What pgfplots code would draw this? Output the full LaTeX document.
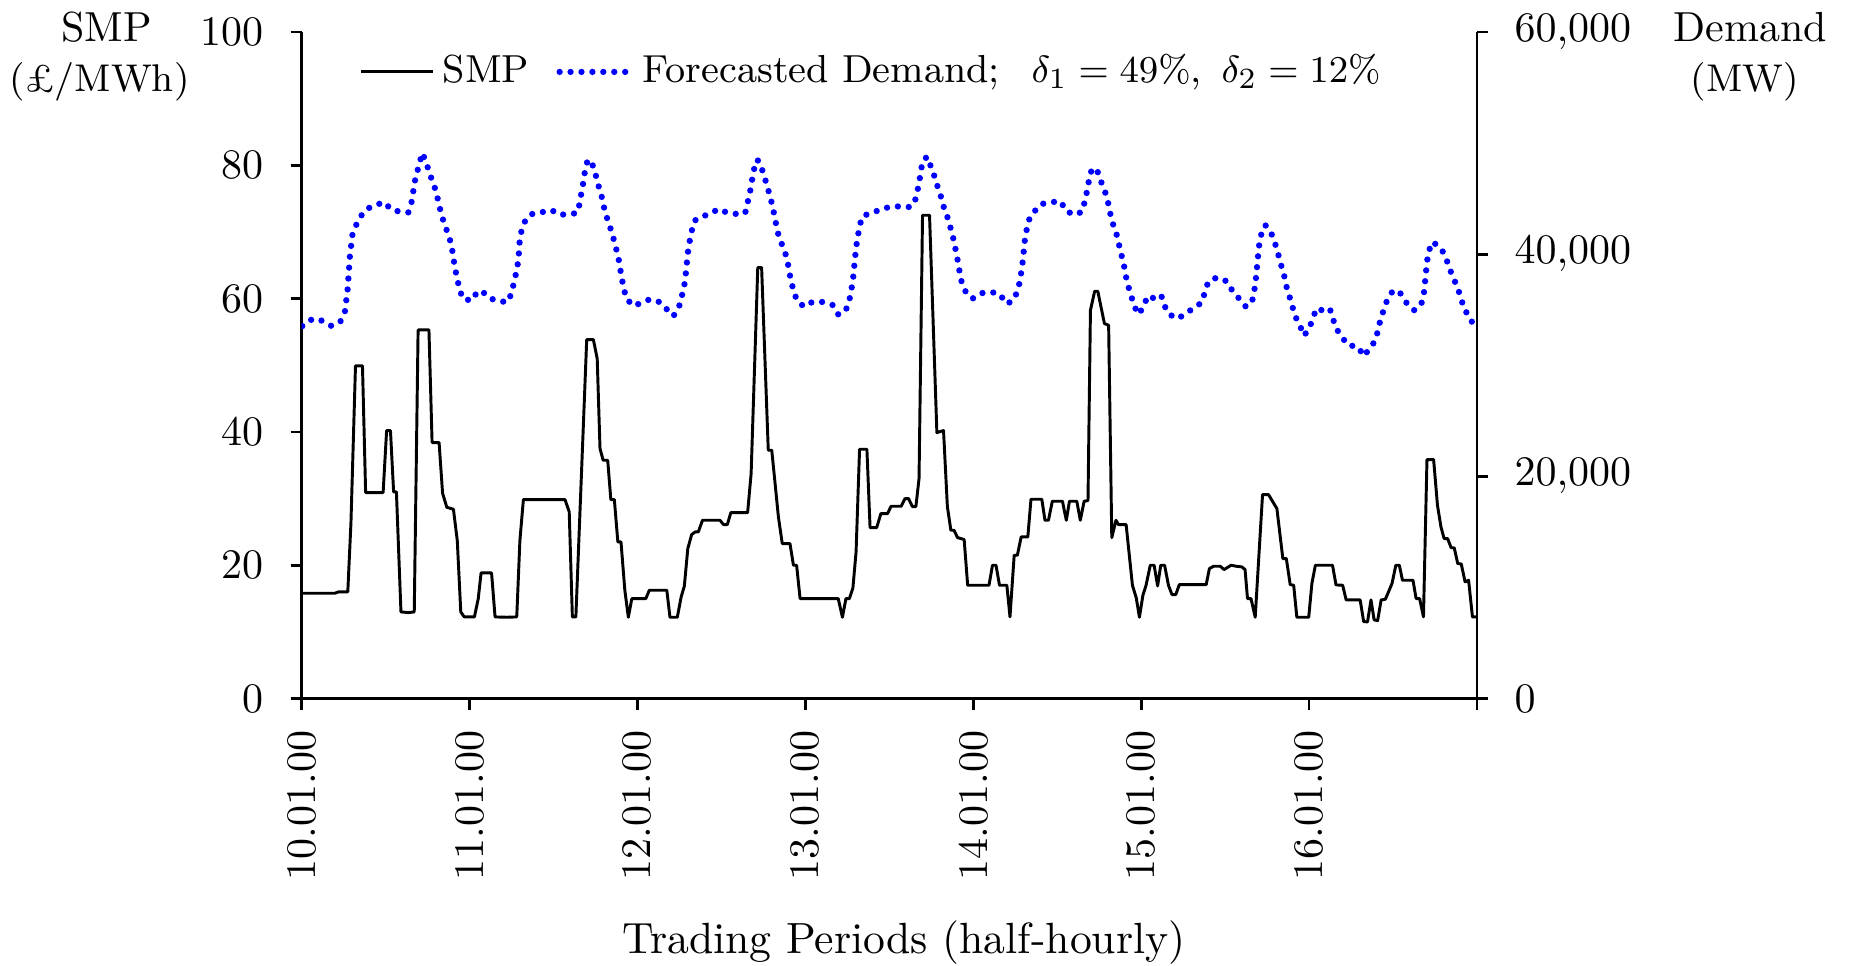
\documentclass[border=0pt]{standalone}
\usepackage{pgfplots}
\pgfplotsset{compat=1.18}
\begin{document}
\begin{tikzpicture}
\pgfplotsset{
  common/.style={
    scale only axis, width=279.8pt, height=158.7pt,
    xmin=0, xmax=336,
    tick align=outside, major tick length=2.6pt,
    axis line style={line width=0.65pt},
    every tick/.style={line width=0.65pt, black},
  }
}
\begin{axis}[common,
  at={(0,0)}, anchor=south west,
  ymin=0, ymax=100,
  axis x line*=bottom, axis y line*=left,
  xtick={0,48,96,144,192,240,288,336},
  xticklabels={10.01.00,11.01.00,12.01.00,13.01.00,14.01.00,15.01.00,16.01.00,{}},
  x tick label style={rotate=90, anchor=east},
  xticklabel shift=1.5pt,
  yticklabel shift=3.0pt,
  ytick={0,20,40,60,80,100},
  legend style={draw=none, fill=none, legend columns=-1,
    /tikz/every even column/.append style={column sep=4.5pt},
    at={(0.038,0.94)}, anchor=west, font=\fontsize{9.3}{11}\selectfont},
]
\addplot[black, line width=0.7pt, line join=round] coordinates {
(0,15.8) (9.5,15.8) (10.5,16.0) (13.2,16.0) (14.1,26.3) (15.4,49.9) (17.4,49.9) (18.3,30.9) (23.3,30.9) (24.3,40.2) (25.4,40.2) (26.3,31.0) (27.1,31.0) (28.4,13.0) (30.5,12.9) (32.2,13.0) (33.3,55.3) (36.4,55.3) (37.3,38.4) (39.3,38.4) (40.3,30.8) (41.5,28.7) (43.4,28.4) (44.5,23.7) (45.5,13.0) (46.5,12.25) (49.4,12.25) (50.5,15.0) (51.3,18.85) (54.3,18.85) (55.3,12.25) (58.6,12.2) (61.5,12.25) (62.4,23.7) (63.4,29.85) (75.3,29.85) (76.5,28.0) (77.4,12.25) (78.4,12.25) (81.5,53.85) (83.4,53.85) (84.5,51.0) (85.3,37.5) (86.2,35.75) (87.5,35.75) (88.4,29.85) (89.4,29.85) (90.4,23.5) (91.3,23.5) (92.4,16.25) (93.4,12.2) (94.4,15.0) (98.4,15.0) (99.4,16.25) (104.4,16.25) (105.3,12.2) (107.4,12.2) (108.5,15.25) (109.4,16.85) (110.4,22.5) (111.5,24.6) (112.5,25.0) (113.4,25.0) (114.6,26.75) (119.6,26.75) (120.6,26.1) (121.7,26.1) (122.7,27.9) (127.5,27.9) (128.5,33.75) (130.4,64.65) (131.5,64.65) (133.4,37.25) (134.4,37.25) (136.3,27.25) (137.4,23.25) (139.6,23.25) (140.6,20.0) (141.5,20.0) (142.5,15.0) (153.4,15.0) (154.6,12.2) (155.6,15.0) (156.6,15.0) (157.6,16.6) (158.5,22.0) (159.5,37.4) (161.6,37.4) (162.5,25.65) (164.4,25.65) (165.6,27.75) (167.5,27.75) (168.5,28.85) (171.4,28.85) (172.5,30.0) (173.5,30.0) (174.6,28.8) (175.6,28.8) (176.5,33.0) (177.5,72.5) (179.5,72.5) (181.6,39.9) (183.5,40.2) (184.6,28.8) (185.6,25.25) (186.5,25.25) (187.5,24.15) (189.4,23.85) (190.4,17.0) (196.5,17.0) (197.5,20.0) (198.5,20.0) (199.5,17.0) (201.6,17.0) (202.5,12.25) (203.7,21.5) (204.6,21.5) (205.7,24.25) (207.6,24.25) (208.5,29.9) (211.6,29.9) (212.5,26.75) (213.5,26.75) (214.6,29.6) (217.5,29.6) (218.6,26.75) (219.5,29.6) (221.6,29.6) (222.6,26.75) (223.7,29.6) (224.8,29.7) (225.5,58.25) (226.7,61.1) (227.6,61.1) (229.5,56.25) (230.7,56.0) (231.6,24.15) (232.8,26.75) (233.5,26.1) (235.7,26.1) (237.5,17.0) (238.6,15.1) (239.5,12.2) (240.5,15.5) (241.4,17.0) (242.6,20.0) (243.7,20.0) (244.7,16.9) (245.6,20.0) (246.7,20.0) (247.8,17.0) (248.8,15.6) (249.9,15.6) (250.9,17.1) (258.6,17.1) (259.5,19.5) (260.7,19.85) (262.6,19.85) (263.7,19.35) (265.7,20.0) (267.2,19.85) (268.8,19.75) (269.7,19.35) (270.4,15.0) (271.4,15.0) (272.6,12.2) (274.7,30.6) (276.4,30.6) (278.8,28.5) (280.5,21.0) (281.5,21.0) (282.6,17.1) (283.6,17.0) (284.5,12.2) (287.9,12.2) (288.8,17.25) (289.8,20.0) (294.7,20.0) (295.7,17.05) (297.6,17.0) (298.6,14.8) (302.6,14.8) (303.6,11.55) (304.7,11.5) (305.7,14.8) (306.6,11.8) (307.6,11.7) (308.6,14.8) (309.8,14.9) (310.7,16.0) (311.7,17.25) (312.8,20.0) (313.8,20.0) (314.7,17.75) (317.7,17.75) (318.6,15.0) (319.6,15.0) (320.7,12.25) (321.7,35.85) (323.6,35.85) (324.7,29.0) (325.7,25.75) (326.6,24.0) (327.6,24.0) (328.6,22.65) (329.5,22.6) (330.5,20.25) (331.5,20.2) (332.6,17.5) (333.6,17.75) (334.7,12.25) (336,12.25)
};
\addlegendentry{SMP}
\addlegendimage{blue, line width=1.5pt, line cap=round, dash pattern=on 0pt off 2.6pt}
\addlegendentry{Forecasted Demand;\hspace{7.5pt}$\delta_1 = 49\%$,\enspace$\delta_2 = 12\%$}
\end{axis}
\begin{axis}[common,
  at={(0,0)}, anchor=south west,
  ymin=0, ymax=60000,
  axis x line=none, axis y line*=right,
  ytick={0,20000,40000,60000},
  scaled y ticks=false,
  yticklabel shift=2.8pt,
  yticklabel style={/pgf/number format/1000 sep={\mathord{,}}},
]
\addplot[blue, line width=1.5pt, line cap=round, dash pattern=on 0pt off 2.6pt] coordinates {
(0.2,33526) (2.4,34068) (4.75,34194) (6.2,33923) (8.6,33526) (11.15,33977) (12.4,34879) (13.15,36837) (13.8,39787) (14.5,41708) (15.7,42700) (16.9,43396) (18.3,43992) (20.8,44416) (23.8,44659) (25.4,44055) (28.1,43811) (30.5,43757) (31.45,44714) (32.4,46608) (33.2,47600) (34.5,49107) (35.7,48205) (36.5,47275) (37.7,46373) (38.6,45408) (39.3,44443) (40.0,43514) (41.0,42549) (42.1,41647) (42.9,40690) (43.35,39752) (43.8,38795) (44.5,37803) (45.1,36837) (46.2,35935) (48.8,35845) (50.3,36688) (52.7,36449) (54.1,35999) (56.7,35728) (59.1,35728) (60.1,36630) (60.8,37586) (61.5,38551) (62.0,39544) (62.4,41466) (63.1,42403) (64.3,43269) (66.2,43666) (68.4,43757) (71.5,43964) (73.6,43540) (76.2,43600) (78.7,43694) (79.6,44659) (80.0,45616) (80.6,46553) (81.0,47510) (81.8,48502) (82.9,48268) (83.9,47366) (84.6,46401) (85.6,45471) (86.2,44506) (87.0,43540) (88.0,42611) (88.9,41708) (89.7,40746) (90.5,39787) (91.0,38850) (91.5,37857) (92.1,36901) (92.9,35935) (95.1,35330) (97.4,35692) (99.6,35935) (102.3,35692) (104.2,35096) (106.3,34428) (107.9,35276) (108.7,36233) (109.4,37198) (109.8,38163) (110.1,39120) (110.4,40112) (110.9,41105) (111.5,42070) (112.3,43000) (114.1,43360) (116.6,43600) (119.1,44055) (121.5,43757) (124.6,43600) (126.8,43694) (127.5,44659) (128.2,45616) (128.7,46553) (129.2,47510) (130.2,48502) (131.1,48205) (132.0,47213) (133.0,46247) (133.8,45317) (134.6,44353) (135.2,43396) (135.8,42431) (136.5,41466) (137.7,40599) (138.7,39661) (139.3,38669) (139.8,37712) (140.6,36747) (141.6,35818) (143.6,35276) (146.1,35710) (149.2,35692) (151.8,35420) (153.4,34581) (155.4,34825) (156.5,35728) (157.1,36688) (157.6,37649) (157.9,38641) (158.2,39607) (158.5,40599) (159.0,41556) (159.5,42549) (160.4,43450) (162.3,43630) (165.1,43964) (167.9,44235) (170.5,44295) (173.5,44235) (175.1,44506) (175.9,45471) (176.5,46401) (177.0,47366) (177.5,48358) (178.8,48773) (179.9,47871) (181.0,46914) (181.9,45977) (182.9,45047) (183.7,44082) (184.8,43180) (185.6,42250) (186.4,41285) (187.0,40328) (187.6,39363) (188.1,38398) (188.7,37441) (189.9,36566) (191.8,35999) (194.1,36476) (197.1,36594) (199.7,36386) (201.3,35547) (203.1,35728) (204.6,36594) (205.3,37532) (205.8,38524) (206.2,39480) (206.5,40473) (206.8,41438) (207.4,42403) (208.2,43360) (209.5,43847) (211.4,44506) (214.4,44686) (217.0,44747) (218.6,43847) (221.3,43540) (223.2,43847) (223.9,44804) (224.6,45769) (225.1,46698) (225.9,47663) (227.3,47663) (228.3,46698) (229.5,45796) (230.4,44867) (231.0,43901) (231.7,42909) (232.8,42007) (233.5,41078) (234.2,40112) (235.0,39156) (235.5,38190) (236.2,37225) (237.1,36296) (238.0,35330) (239.25,34581) (240.8,35330) (241.8,36233) (243.7,36025) (245.7,36323) (246.6,35394) (248.0,34581) (250.5,34194) (252.8,34672) (255.2,35186) (257.4,35665) (258.2,36594) (259.2,37532) (261.6,37893) (264.5,37559) (266.1,36688) (268.1,35963) (270.0,35240) (271.8,35875) (272.4,36837) (272.8,37803) (273.1,38795) (273.4,39787) (273.7,40746) (274.3,41738) (275.5,42611) (277.1,41952) (278.2,41050) (279.1,40085) (279.9,39120) (280.8,38190) (281.4,37225) (282.3,36296) (283.2,35330) (284.0,34428) (285.4,33562) (286.55,32660) (288.0,33291) (289.1,34221) (290.1,35123) (291.7,34950) (293.9,35123) (294.8,34194) (295.8,33291) (297.4,32534) (299.1,31812) (302.0,31668) (303.6,30820) (305.3,31487) (306.9,32209) (307.7,33138) (308.4,34104) (309.4,35033) (310.4,35935) (312.1,36774) (314.1,36476) (315.8,35638) (318.0,34950) (320.0,35420) (320.8,36386) (321.1,37351) (321.4,38308) (321.7,39300) (322.2,40265) (323.3,41105) (325.7,40536) (327.1,39697) (328.1,38731) (329.3,37829) (330.5,36927) (331.5,35999) (332.3,35033) (333.8,34428) (335.1,33526) (336,33300)
};
\end{axis}
\begin{scope}[every node/.style={inner sep=0pt, outer sep=0pt}]
\node[anchor=base] at (-46.4pt,156.3pt) {SMP};
\node[anchor=base, font=\fontsize{9.2}{11}\selectfont] at (-48.1pt,144.6pt) {(£/MWh)};
\node[anchor=base] at (344.9pt,156.3pt) {Demand};
\node[anchor=base, font=\fontsize{9.2}{11}\selectfont] at (343.6pt,144.6pt) {(MW)};
\node[anchor=base, font=\fontsize{10.4}{12}\selectfont] at (143.4pt,-60.6pt) {Trading Periods (half-hourly)};
\end{scope}
\path (-71.8pt,-63.5pt) rectangle (368.6pt,166.3pt);
\end{tikzpicture}
\end{document}
